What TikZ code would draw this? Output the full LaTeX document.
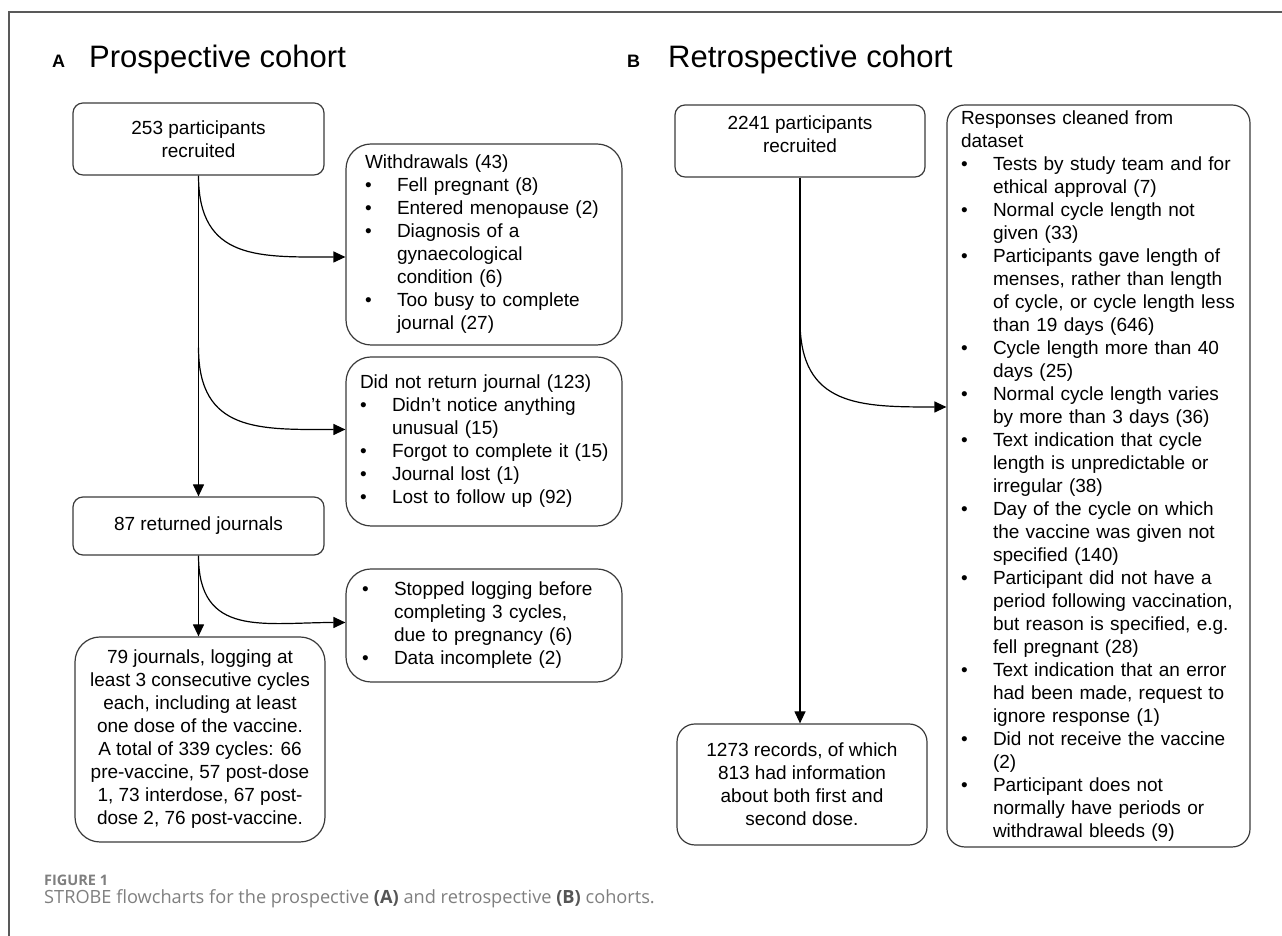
\documentclass[tikz,border=0pt]{standalone}
\usepackage{fontspec}
\setmainfont{Liberation Sans}
\newfontfamily\capfont{Open Sans}
\usepackage{xcolor}
\usepackage{tikz}
\usetikzlibrary{calc}
\usetikzlibrary{arrows.meta}
\definecolor{boxline}{HTML}{3A3A3A}
\definecolor{capgray}{HTML}{7F7F7F}
\definecolor{capdark}{HTML}{555555}
\tikzset{box/.style={draw=boxline, line width=1.2pt, rounded corners=10pt, inner sep=0pt, font=\fontsize{19}{23}\selectfont}}
\tikzset{listbox/.style={box, align=left, inner xsep=15pt, rounded corners=25pt}}
\tikzset{arr/.style={line width=1.2pt, -{Triangle[length=12pt,width=11pt]}}}
\tikzset{branch/.style={arr, out=-90, in=180, looseness=1.3}}
\tikzset{paneltitle/.style={anchor=base west, inner sep=0pt, font=\fontsize{31}{37}\selectfont}}
\tikzset{panelletter/.style={anchor=base west, inner sep=0pt, font=\fontsize{18}{21}\selectfont\bfseries}}
\newcommand{\bitem}{\makebox[32pt][l]{\textbullet}}
\newcommand{\bcont}{\hspace*{32pt}}

\begin{document}
\begin{tikzpicture}[x=1pt, y=1pt]
    \useasboundingbox (0,0) rectangle (1282,936);
    \draw [color=black!65, line width=1.2pt] (9,0) -- (9,924) -- (1282,924);

    % titles
    \node [panelletter] (letA) at (52,868) {A};
    \node [paneltitle] (titleA) at (89,868) {Prospective cohort};
    \node [panelletter] (letB) at (627,868) {B};
    \node [paneltitle] (titleB) at (668,868) {Retrospective cohort};

    % prospective cohort
    \node [box, minimum width=251pt, minimum height=72pt, align=center] (A1) at (198.5,797)
        {253 participants\\recruited};
    \node [listbox, text width=238pt, inner xsep=19pt, minimum height=201pt] (A2) at (484,691.5)
        {Withdrawals (43)\\
        \bitem Fell pregnant (8)\\
        \bitem Entered menopause (2)\\
        \bitem Diagnosis of a\\
        \bcont gynaecological\\
        \bcont condition (6)\\
        \bitem Too busy to complete\\
        \bcont journal (27)};
    \node [listbox, text width=248pt, inner xsep=14pt, minimum height=169pt] (A3) at (484,494.5)
        {Did not return journal (123)\\
        \bitem Didn’t notice anything\\
        \bcont unusual (15)\\
        \bitem \mbox{Forgot to complete it (15)}\\
        \bitem Journal lost (1)\\
        \bitem Lost to follow up (92)};
    \node [box, minimum width=251pt, minimum height=58pt] (A4) at (198.5,410)
        {87 returned journals};
    \node [listbox, text width=244pt, inner xsep=16pt, minimum height=113pt] (A5) at (484,310.5)
        {\bitem Stopped logging before\\
        \bcont completing 3 cycles,\\
        \bcont due to pregnancy (6)\\
        \bitem Data incomplete (2)};
    \node [box, rounded corners=25pt, minimum width=250pt, minimum height=205pt, align=center] (A6) at (200,196.5)
        {79 journals, logging at\\
        least 3 consecutive cycles\\
        each, including at least\\
        one dose of the vaccine.\\
        A total of 339 cycles: 66\\
        pre-vaccine, 57 post-dose\\
        1, 73 interdose, 67 post-\\
        dose 2, 76 post-vaccine.};

    \coordinate (A1b) at ($(A1.south)+(0,-172)$);
    \draw [arr] (A1.south) -- (A4.north);
    \draw [branch] (A1.south) to ($(A2.west)+(0,-12.5)$);
    \draw [branch] (A1b) to ($(A3.west)+(0,12)$);
    \draw [arr] (A4.south) -- (A4.south |- A6.north);
    \draw [branch] (A4.south) to ($(A5.west)+(0,3)$);

    % retrospective cohort
    \node [box, minimum width=250pt, minimum height=72pt, align=center, text depth=13pt] (B1) at (800,795)
        {2241 participants\\recruited};
    \node [listbox, text width=275pt, inner xsep=14pt, rounded corners=18pt, minimum height=742pt] (B2) at (1098.5,460)
        {Responses cleaned from\\
        dataset\\
        \bitem Tests by study team and for\\
        \bcont ethical approval (7)\\
        \bitem Normal cycle length not\\
        \bcont given (33)\\
        \bitem Participants gave length of\\
        \bcont menses, rather than length\\
        \bcont of cycle, or cycle length less\\
        \bcont than 19 days (646)\\
        \bitem Cycle length more than 40\\
        \bcont days (25)\\
        \bitem Normal cycle length varies\\
        \bcont by more than 3 days (36)\\
        \bitem Text indication that cycle\\
        \bcont length is unpredictable or\\
        \bcont irregular (38)\\
        \bitem Day of the cycle on which\\
        \bcont the vaccine was given not\\
        \bcont specified (140)\\
        \bitem Participant did not have a\\
        \bcont period following vaccination,\\
        \bcont but reason is specified, e.g.\\
        \bcont fell pregnant (28)\\
        \bitem Text indication that an error\\
        \bcont had been made, request to\\
        \bcont ignore response (1)\\
        \bitem Did not receive the vaccine\\
        \bcont (2)\\
        \bitem Participant does not\\
        \bcont normally have periods or\\
        \bcont withdrawal bleeds (9)};
    \node [box, rounded corners=18pt, minimum width=250pt, minimum height=121pt, align=center] (B3) at (802,151.5)
        {1273 records, of which\\
        813 had information\\
        about both first and\\
        second dose.};

    \coordinate (B1b) at ($(B1.south)+(0,-143)$);
    \draw [arr] (B1.south) -- (B1.south |- B3.north);
    \draw [branch] (B1b) to ($(B2.west)+(0,69)$);

    % caption
    \node [anchor=base west, inner sep=0pt, font=\capfont\fontsize{14.5}{17}\selectfont\bfseries, text=capgray] (figlabel) at (44,50) {FIGURE 1};
    \node [anchor=base west, inner sep=0pt, font=\capfont\fontsize{18.2}{22}\selectfont, text=capgray] (figcaption) at (44,32)
        {STROBE flowcharts for the prospective {\bfseries\color{capdark}(A)} and retrospective {\bfseries\color{capdark}(B)} cohorts.};
\end{tikzpicture}
\end{document}
